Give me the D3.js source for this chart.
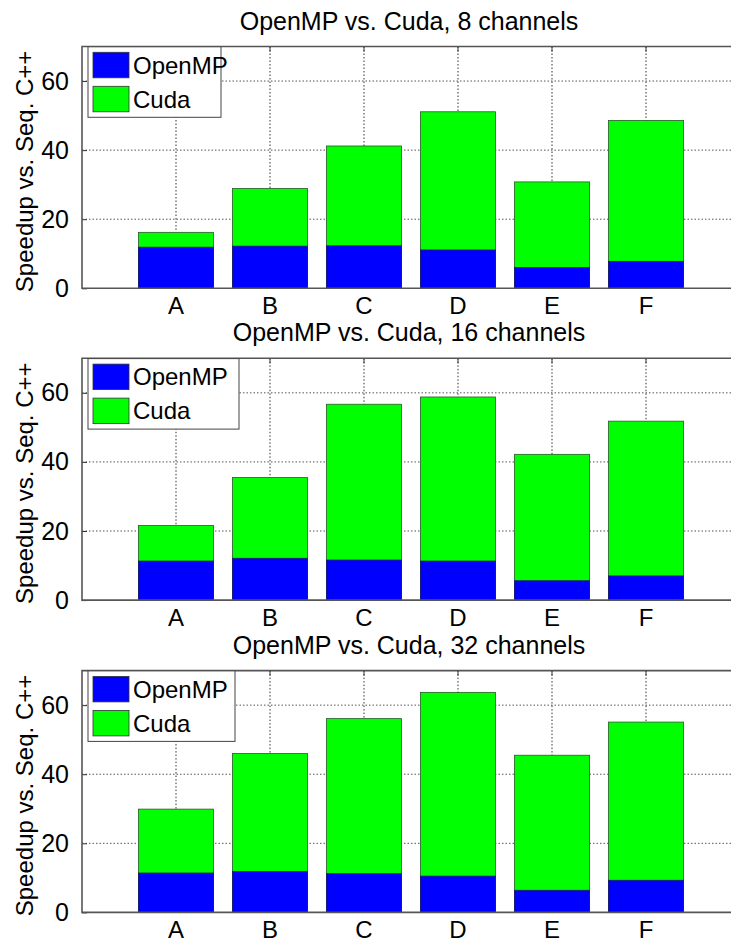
<!DOCTYPE html>
<html>
<head>
<meta charset="utf-8">
<script src="https://cdn.jsdelivr.net/npm/d3@7"></script>
<style>
  html, body { margin: 0; padding: 0; background: #fff; }
  svg { display: block; font-family: "Liberation Sans", Arial, Helvetica, sans-serif; }
</style>
</head>
<body>
<svg id="chart" width="731" height="946"></svg>
<script>
// ---- data ----
const categories = ["A", "B", "C", "D", "E", "F"];
const seriesNames = ["OpenMP", "Cuda"];
const panelTitles = ["OpenMP vs. Cuda, 8 channels", "OpenMP vs. Cuda, 16 channels", "OpenMP vs. Cuda, 32 channels"];
const openmp8  = [11.9, 12.2, 12.3, 11.1, 6.0, 7.8];
const cuda8    = [16.2, 28.9, 41.2, 51.1, 30.8, 48.6];
const openmp16 = [11.3, 12.1, 11.6, 11.3, 5.6, 7.0];
const cuda16   = [21.6, 35.5, 56.7, 58.8, 42.2, 51.8];
const openmp32 = [11.4, 11.8, 11.2, 10.5, 6.4, 9.3];
const cuda32   = [29.9, 46.0, 56.1, 63.7, 45.5, 55.1];
const yTicks = [0, 20, 40, 60];
const yLabel = "Speedup vs. Seq. C++";

const panels = [
  { title: panelTitles[0], openmp: openmp8,  cuda: cuda8 },
  { title: panelTitles[1], openmp: openmp16, cuda: cuda16 },
  { title: panelTitles[2], openmp: openmp32, cuda: cuda32 }
];

// ---- layout ----
const svg = d3.select("#chart");
const colors = { OpenMP: "#0000ff", Cuda: "#00ff00" };
const panelTops = [46.5, 358.3, 670.6];
const panelH = 241.8;
const left = 82, right = 740;
const legendW = [133, 151, 147];

const x = d3.scaleBand().domain(categories).range([left, right])
  .paddingInner(0.2).paddingOuter(0.6);

panels.forEach((p, i) => {
  const top = panelTops[i];
  const bottom = top + panelH;
  const y = d3.scaleLinear().domain([0, 70]).range([bottom, top]);
  const g = svg.append("g");

  // title
  g.append("text")
    .attr("x", 409).attr("y", top - 17)
    .attr("text-anchor", "middle")
    .attr("font-size", 25)
    .attr("fill", "#000")
    .text(p.title);

  // grid lines
  g.append("g").selectAll("line.hg").data(yTicks.filter(t => t > 0)).join("line")
    .attr("x1", left).attr("x2", right)
    .attr("y1", d => y(d)).attr("y2", d => y(d))
    .attr("stroke", "#555").attr("stroke-width", 1)
    .attr("stroke-dasharray", "1.5,2");
  g.append("g").selectAll("line.vg").data(categories).join("line")
    .attr("x1", d => x(d) + x.bandwidth() / 2).attr("x2", d => x(d) + x.bandwidth() / 2)
    .attr("y1", top).attr("y2", bottom)
    .attr("stroke", "#333").attr("stroke-width", 1)
    .attr("stroke-dasharray", "1.5,2");

  // bars: Cuda (full height), OpenMP in front
  g.append("g").selectAll("rect").data(p.cuda).join("rect")
    .attr("x", (d, j) => x(categories[j]))
    .attr("width", x.bandwidth())
    .attr("y", d => y(d))
    .attr("height", d => y(0) - y(d))
    .attr("fill", colors.Cuda)
    .attr("stroke", "#2a5a2a").attr("stroke-width", 0.8);
  g.append("g").selectAll("rect").data(p.openmp).join("rect")
    .attr("x", (d, j) => x(categories[j]))
    .attr("width", x.bandwidth())
    .attr("y", d => y(d))
    .attr("height", d => y(0) - y(d))
    .attr("fill", colors.OpenMP)
    .attr("stroke", "#1a1a6a").attr("stroke-width", 0.8);

  // axes
  const yAxis = d3.axisLeft(y).tickValues(yTicks).tickSize(-5).tickPadding(13);
  const ya = g.append("g").attr("transform", `translate(${left},0)`).call(yAxis);
  ya.select(".domain").remove();
  ya.selectAll("line").attr("stroke", "#333");
  ya.selectAll("text").attr("font-size", 25).attr("fill", "#000")
    .attr("font-family", "'Liberation Sans', Arial, sans-serif");

  const xAxis = d3.axisBottom(x).tickSize(0).tickPadding(9);
  const xa = g.append("g").attr("transform", `translate(0,${bottom})`).call(xAxis);
  xa.select(".domain").remove();
  xa.selectAll("text").attr("font-size", 24).attr("fill", "#000")
    .attr("font-family", "'Liberation Sans', Arial, sans-serif");

  // top ticks
  g.append("g").selectAll("line").data(categories).join("line")
    .attr("x1", d => x(d) + x.bandwidth() / 2).attr("x2", d => x(d) + x.bandwidth() / 2)
    .attr("y1", top).attr("y2", top + 5)
    .attr("stroke", "#333").attr("stroke-width", 1);

  // frame
  g.append("path")
    .attr("d", `M${right},${top}H${left}V${bottom}H${right}`)
    .attr("fill", "none").attr("stroke", "#555").attr("stroke-width", 1.6);

  // y label
  g.append("text")
    .attr("transform", `translate(33,${(top + bottom) / 2 + 4}) rotate(-90)`)
    .attr("text-anchor", "middle")
    .attr("font-size", 24)
    .attr("fill", "#000")
    .text(yLabel);

  // legend
  const lg = g.append("g").attr("transform", `translate(88,${top + 0.3})`);
  lg.append("rect").attr("width", legendW[i]).attr("height", 70.5)
    .attr("fill", "#fff").attr("stroke", "#444").attr("stroke-width", 1);
  seriesNames.forEach((s, k) => {
    const yy = 5.5 + k * 34;
    lg.append("rect").attr("x", 5).attr("y", yy).attr("width", 36).attr("height", 25.5)
      .attr("fill", colors[s]).attr("stroke", "#333").attr("stroke-width", 0.8);
    lg.append("text").attr("x", 45).attr("y", yy + 13).attr("dy", "0.35em")
      .attr("font-size", 24).attr("fill", "#000").text(s);
  });
});
</script>
</body>
</html>
